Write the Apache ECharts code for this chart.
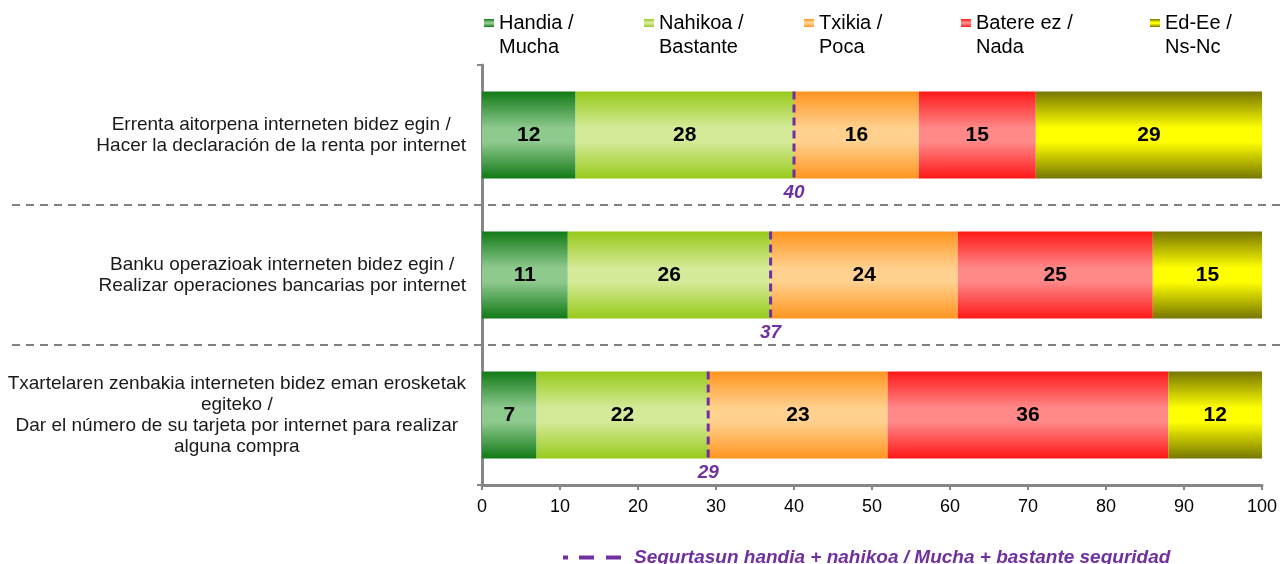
<!DOCTYPE html>
<html>
<head>
<meta charset="utf-8">
<script src="https://cdn.jsdelivr.net/npm/echarts@6/dist/echarts.min.js"></script>
<style>
html, body { margin: 0; padding: 0; background: #fff; }
#chart { width: 1281px; height: 564px; }
</style>
</head>
<body>
<div id="chart"></div>
<script>
// categories, top to bottom
const categories = [
  'Errenta aitorpena interneten bidez egin /\nHacer la declaración de la renta por internet',
  'Banku operazioak interneten bidez egin /\nRealizar operaciones bancarias por internet',
  'Txartelaren zenbakia interneten bidez eman erosketak\negiteko /\nDar el número de su tarjeta por internet para realizar\nalguna compra'
];

// percentages per answer
const handia = [12, 11, 7];
const nahikoa = [28, 26, 22];
const txikia = [16, 24, 23];
const batere = [15, 25, 36];
const edee = [29, 15, 12];
// handia + nahikoa (dashed purple marker)
const seguridad = [40, 37, 29];

// x axis ticks
const xMin = 0;
const xMax = 100;
const xStep = 10;

const seriesNames = ['Handia / Mucha', 'Nahikoa / Bastante', 'Txikia / Poca', 'Batere ez / Nada', 'Ed-Ee / Ns-Nc'];
const lineName = 'Segurtasun handia + nahikoa / Mucha + bastante seguridad';

const barData = [handia, nahikoa, txikia, batere, edee];
const colors = [
  ['#127a16', '#8ec98e'],
  ['#98ca1c', '#d4ea98'],
  ['#ff9520', '#ffd08e'],
  ['#ff1818', '#ff8888'],
  ['#777700', '#ffff00']
];
const legendLeft = [484, 644, 804, 961, 1150];
const purple = '#7030a0';

function grad(dark, light) {
  return new echarts.graphic.LinearGradient(0, 0, 0, 1, [
    { offset: 0, color: dark },
    { offset: 0.42, color: light },
    { offset: 0.58, color: light },
    { offset: 1, color: dark }
  ]);
}

const chart = echarts.init(document.getElementById('chart'));

// blank first line so the icon sits beside the first text line
const legends = seriesNames.map((n, i) => ({
  data: [n],
  left: legendLeft[i],
  top: -13,
  padding: 0,
  itemWidth: 10,
  itemHeight: 8,
  icon: 'rect',
  selectedMode: false,
  formatter: s => ' \n' + s.replace(' / ', ' /\n'),
  textStyle: { fontSize: 20, lineHeight: 24, color: '#000' }
}));
legends.push({
  data: [lineName],
  left: 563,
  top: 548,
  padding: 0,
  itemWidth: 58,
  itemHeight: 4,
  icon: 'path://M0,0h5v4h-5z M16,0h15v4h-15z M43,0h15v4h-15z',
  selectedMode: false,
  textStyle: { fontSize: 19, fontStyle: 'italic', fontWeight: 'bold', color: purple, padding: [0, 0, 0, 8] }
});

const option = {
  animation: false,
  textStyle: { fontFamily: 'Liberation Sans, Arial, sans-serif' },
  legend: legends,
  grid: { left: 482, right: 19, top: 65, bottom: 79 },
  xAxis: {
    type: 'value',
    min: xMin,
    max: xMax,
    interval: xStep,
    splitLine: { show: false },
    axisLine: { show: true, lineStyle: { color: '#868686', width: 3 } },
    axisTick: { show: true, length: 5, lineStyle: { color: '#868686', width: 2 } },
    axisLabel: { fontSize: 18, color: '#000', margin: 13 }
  },
  yAxis: {
    type: 'category',
    inverse: true,
    data: categories,
    axisLine: { show: true, lineStyle: { color: '#868686', width: 3 } },
    axisTick: { show: true, length: 5, lineStyle: { color: '#868686', width: 2 } },
    axisLabel: {
      margin: 16,
      formatter: v => v.split('\n').map(l => '{c|' + l + '}').join('\n'),
      rich: { c: { align: 'center', fontSize: 19, lineHeight: 21, color: '#1a1a1a' } }
    }
  },
  series: barData.map((d, i) => ({
    name: seriesNames[i],
    type: 'bar',
    stack: 'total',
    data: d,
    barWidth: '62%',
    itemStyle: { color: grad(colors[i][0], colors[i][1]) },
    label: { show: true, position: 'inside', fontSize: 21, fontWeight: 'bold', color: '#000' },
    emphasis: { disabled: true }
  })).concat([{
    name: lineName,
    type: 'custom',
    data: seguridad.map((v, i) => [v, i]),
    encode: { x: 0, y: 1 },
    itemStyle: { color: purple },
    z: 5,
    renderItem: (params, api) => {
      const p = api.coord([api.value(0), api.value(1)]);
      const h = api.size([0, 1])[1] * 0.62;
      return {
        type: 'group',
        children: [
          {
            type: 'line',
            shape: { x1: p[0], y1: p[1] - h / 2, x2: p[0], y2: p[1] + h / 2 },
            style: { stroke: purple, lineWidth: 3, lineDash: [8, 5] }
          },
          {
            type: 'text',
            style: {
              text: String(api.value(0)),
              x: p[0],
              y: p[1] + h / 2 + 5,
              align: 'center',
              verticalAlign: 'top',
              fill: purple,
              font: 'italic bold 19px Liberation Sans, Arial, sans-serif'
            }
          }
        ]
      };
    }
  }])
};

chart.setOption(option);

// dashed separators between the category bands
const seps = [0, 1].map(i => {
  const a = chart.convertToPixel({ yAxisIndex: 0 }, i);
  const b = chart.convertToPixel({ yAxisIndex: 0 }, i + 1);
  return (a + b) / 2;
});
chart.setOption({
  graphic: seps.map(y => ({
    type: 'line',
    shape: { x1: 12, y1: y, x2: 1280, y2: y },
    style: { stroke: '#808080', lineWidth: 2, lineDash: [8, 6] },
    z: -1
  }))
});
</script>
</body>
</html>
